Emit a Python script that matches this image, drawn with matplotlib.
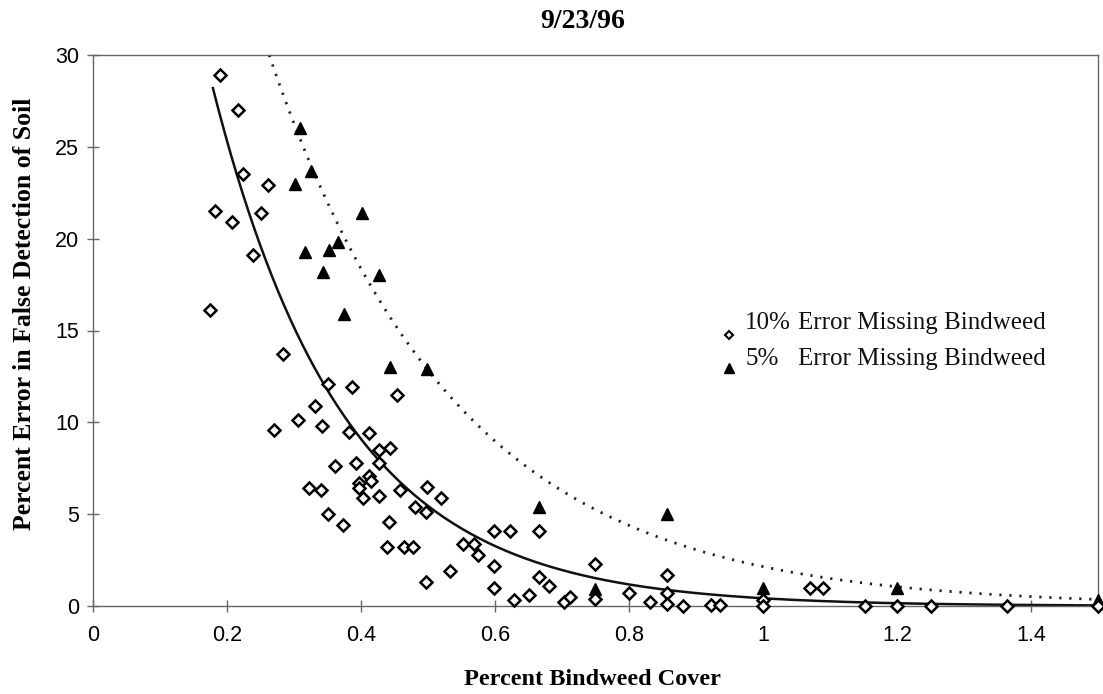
import numpy as np
import matplotlib
matplotlib.use("Agg")
import matplotlib.pyplot as plt

# ---- data ----
x_10 = [0.190, 0.216, 0.224, 0.261, 0.182, 0.207, 0.251, 0.239, 0.175,
        0.284, 0.351, 0.387, 0.454, 0.331, 0.306, 0.342, 0.270, 0.382, 0.412,
        0.427, 0.443, 0.361, 0.393, 0.427, 0.412, 0.415, 0.397, 0.397, 0.403,
        0.322, 0.340, 0.427, 0.458, 0.499, 0.519, 0.481, 0.497, 0.351, 0.373,
        0.442, 0.439, 0.464, 0.478, 0.497, 0.533, 0.552, 0.569, 0.575, 0.599,
        0.622, 0.666, 0.599, 0.599, 0.628, 0.651, 0.666, 0.681, 0.703, 0.712,
        0.749, 0.749, 0.800, 0.831, 0.857, 0.857, 0.857, 0.880, 0.922, 0.936,
        1.000, 1.000, 1.070, 1.090, 1.152, 1.200, 1.250, 1.364, 1.500]
y_10 = [28.9, 27.0, 23.5, 22.9, 21.5, 20.9, 21.4, 19.1, 16.1,
        13.7, 12.1, 11.9, 11.5, 10.9, 10.1, 9.8, 9.6, 9.5, 9.4,
        8.5, 8.6, 7.6, 7.8, 7.8, 7.1, 6.8, 6.7, 6.4, 5.9,
        6.4, 6.3, 6.0, 6.3, 6.5, 5.9, 5.4, 5.1, 5.0, 4.4,
        4.6, 3.2, 3.2, 3.2, 1.3, 1.9, 3.4, 3.4, 2.8, 4.1,
        4.1, 4.1, 2.2, 1.0, 0.3, 0.6, 1.6, 1.1, 0.2, 0.5,
        2.3, 0.4, 0.7, 0.2, 1.7, 0.7, 0.1, 0.0, 0.05, 0.05,
        0.3, 0.0, 1.0, 1.0, 0.0, 0.0, 0.0, 0.0, 0.0]

x_5 = [0.309, 0.325, 0.301, 0.401, 0.316, 0.352, 0.366, 0.343, 0.427,
       0.375, 0.443, 0.499, 0.666, 0.857, 0.749, 1.000, 1.200, 1.500]
y_5 = [26.0, 23.7, 23.0, 21.4, 19.3, 19.4, 19.8, 18.2, 18.0,
       15.9, 13.0, 12.9, 5.4, 5.0, 0.9, 1.0, 1.0, 0.3]

# exponential trendlines (coefficients)
trend_10 = (70.5, 5.12)
trend_5 = (76.9, 3.58)

x_ticks = [0, 0.2, 0.4, 0.6, 0.8, 1.0, 1.2, 1.4]
x_tick_labels = ["0", "0.2", "0.4", "0.6", "0.8", "1", "1.2", "1.4"]
y_ticks = [0, 5, 10, 15, 20, 25, 30]

title = "9/23/96"
xlabel = "Percent Bindweed Cover"
ylabel = "Percent Error in False Detection of Soil"
leg_pct = ["10%", "5%"]
leg_txt = "Error Missing Bindweed"

# ---- figure ----
fig = plt.figure(figsize=(11.03, 6.94), dpi=100)
ax = fig.add_axes([93/1103, 1-606/694, 1005/1103, 551/694])
ax.set_xlim(0, 1.5)
ax.set_ylim(0, 30)

serif = "Liberation Serif"
sans = "Liberation Sans"

# trend curves
a, b = trend_10
xs = np.linspace(0.179, 1.5, 300)
ax.plot(xs, a*np.exp(-b*xs), color="#111111", lw=1.8, zorder=2)
a2, b2 = trend_5
x0 = np.log(a2/30)/b2
xs2 = np.linspace(x0, 1.5, 300)
ax.plot(xs2, a2*np.exp(-b2*xs2), color="#222222", lw=2.0,
        linestyle=(0, (0.8, 2.8)), zorder=2, clip_on=False)

# scatter
ax.plot(x_10, y_10, linestyle="none", marker="D", ms=5.8, mfc="white",
        mec="black", mew=1.8, clip_on=False, zorder=4)
ax.plot(x_5, y_5, linestyle="none", marker="^", ms=9, mfc="black",
        mec="black", clip_on=False, zorder=3)

# axes styling
for s in ax.spines.values():
    s.set_color("#666666")
    s.set_linewidth(1.0)
ax.set_xticks(x_ticks)
ax.set_xticklabels(x_tick_labels)
ax.set_yticks(y_ticks)
ax.tick_params(direction="inout", length=8, width=1, color="#666666",
               labelsize=15.5, pad=6)
ax.tick_params(axis="x", pad=10)
for lab in ax.get_xticklabels() + ax.get_yticklabels():
    lab.set_fontfamily(sans)

ax.text(0.4876, 1.06, title, transform=ax.transAxes, ha="center",
        va="center", fontsize=20, fontweight="bold", family=serif)
ax.text(0.497, -0.134, xlabel, transform=ax.transAxes, ha="center",
        va="center", fontsize=17.5, fontweight="bold", family=serif)
ax.text(-0.068, 0.53, ylabel, transform=ax.transAxes, ha="center",
        va="center", rotation=90, fontsize=18.5, fontweight="bold",
        family=serif)

# legend (drawn manually, no frame)
ax.plot([0.633], [0.492], transform=ax.transAxes, marker="D", ms=4.5,
        mfc="white", mec="black", mew=1.5, linestyle="none", clip_on=False)
ax.plot([0.633], [0.432], transform=ax.transAxes, marker="^", ms=7,
        mfc="black", mec="black", linestyle="none", clip_on=False)
for yy, pct in zip([0.514, 0.448], leg_pct):
    ax.text(0.649, yy, pct, transform=ax.transAxes, ha="left", va="center",
            fontsize=18, family=serif, color="#111111")
    ax.text(0.701, yy, leg_txt, transform=ax.transAxes, ha="left",
            va="center", fontsize=18, family=serif, color="#111111")

fig.savefig("out.png", dpi=100)
